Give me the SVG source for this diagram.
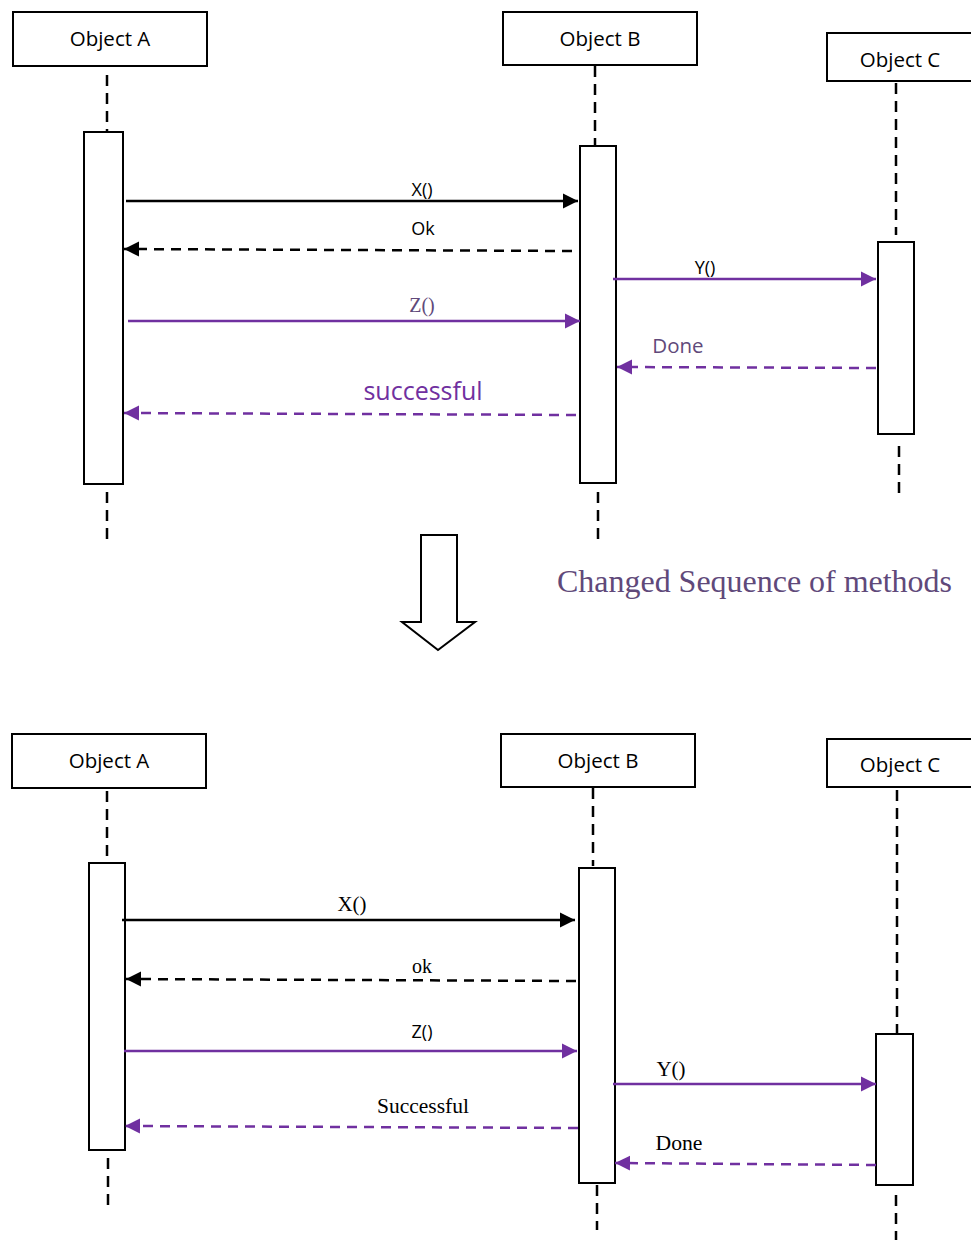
<svg xmlns="http://www.w3.org/2000/svg" width="971" height="1240" viewBox="0 0 971 1240">
<style>
.box{fill:#fff;stroke:#000;stroke-width:2}
.act{fill:#fff;stroke:#000;stroke-width:2}
.life{stroke:#000;stroke-width:2.5;stroke-dasharray:11 7;fill:none}
.hdr{font-family:"Open Sans","Noto Sans",sans-serif;font-size:20.5px;fill:#000;text-anchor:middle}
.lbl{font-family:"Open Sans","Noto Sans",sans-serif;font-size:18px;fill:#000;text-anchor:middle}
.ser{font-family:"Liberation Serif",serif;font-size:20px;fill:#000;text-anchor:middle}
.call{stroke:#000;stroke-width:2.5;fill:none}
.ret{stroke:#000;stroke-width:2.5;stroke-dasharray:10 7;fill:none}
.pcall{stroke:#7030a0;stroke-width:2.5;fill:none}
.pret{stroke:#7030a0;stroke-width:2.5;stroke-dasharray:10 7;fill:none}
</style>
<defs>
<marker id="ab" viewBox="0 0 10 10" refX="10" refY="5" markerWidth="6" markerHeight="6.5" markerUnits="strokeWidth" orient="auto"><path d="M0,0 L10,5 L0,10 z" fill="#000"/></marker>
<marker id="ap" viewBox="0 0 10 10" refX="10" refY="5" markerWidth="6" markerHeight="6.5" markerUnits="strokeWidth" orient="auto"><path d="M0,0 L10,5 L0,10 z" fill="#7030a0"/></marker>
</defs>

<!-- Top diagram -->
<g id="top-objA">
<rect class="box" x="13" y="12" width="194" height="54"/>
<text class="hdr" x="110" y="46">Object A</text>
<line class="life" x1="107" y1="75" x2="107" y2="131"/>
<rect class="act" x="84" y="132" width="39" height="352"/>
<line class="life" x1="107" y1="492" x2="107" y2="540"/>
</g>
<g id="top-objB">
<rect class="box" x="503" y="12" width="194" height="53"/>
<text class="hdr" x="600" y="46">Object B</text>
<line class="life" x1="595" y1="66" x2="595" y2="145"/>
<rect class="act" x="580" y="146" width="36" height="337"/>
<line class="life" x1="598" y1="492" x2="598" y2="540"/>
</g>
<g id="top-objC">
<rect class="box" x="827" y="33" width="150" height="48"/>
<text class="hdr" x="900" y="67">Object C</text>
<line class="life" x1="896" y1="83" x2="896" y2="235"/>
<rect class="act" x="878" y="242" width="36" height="192"/>
<line class="life" x1="899" y1="446" x2="899" y2="494"/>
</g>
<g id="top-connectors">
<line class="call" x1="126" y1="201" x2="578" y2="201" marker-end="url(#ab)"/>
<text class="lbl" x="422" y="196">X()</text>
<line class="ret" x1="572" y1="251" x2="124" y2="249" marker-end="url(#ab)"/>
<text class="lbl" x="423" y="235">Ok</text>
<line class="pcall" x1="613" y1="279" x2="876" y2="279" marker-end="url(#ap)"/>
<text class="lbl" x="705" y="274">Y()</text>
<line class="pcall" x1="128" y1="321" x2="580" y2="321" marker-end="url(#ap)"/>
<text x="422" y="312" style="font-family:'Liberation Serif',serif;font-size:20px;fill:#60497a;text-anchor:middle">Z()</text>
<line class="pret" x1="876" y1="368" x2="617" y2="367" marker-end="url(#ap)"/>
<text x="678" y="353" style="font-family:'Open Sans','Noto Sans',sans-serif;font-size:20.5px;fill:#60497a;text-anchor:middle">Done</text>
<line class="pret" x1="576" y1="415" x2="124" y2="413" marker-end="url(#ap)"/>
<text x="423" y="400" style="font-family:'Open Sans','Noto Sans',sans-serif;font-size:25px;fill:#7030a0;text-anchor:middle">successful</text>
</g>

<!-- Transition arrow -->
<g id="transition">
<path d="M421,535 L457,535 L457,622 L475,622 L438,650 L402,622 L421,622 Z" fill="#fff" stroke="#000" stroke-width="2"/>
<text x="557" y="592" textLength="395" lengthAdjust="spacingAndGlyphs" style="font-family:'Liberation Serif',serif;font-size:31px;fill:#60497a">Changed Sequence of methods</text>
</g>

<!-- Bottom diagram -->
<g id="bot-objA">
<rect class="box" x="12" y="734" width="194" height="54"/>
<text class="hdr" x="109" y="768">Object A</text>
<line class="life" x1="107" y1="791" x2="107" y2="860"/>
<rect class="act" x="89" y="863" width="36" height="287"/>
<line class="life" x1="108" y1="1158" x2="108" y2="1206"/>
</g>
<g id="bot-objB">
<rect class="box" x="501" y="734" width="194" height="53"/>
<text class="hdr" x="598" y="768">Object B</text>
<line class="life" x1="593" y1="788" x2="593" y2="866"/>
<rect class="act" x="579" y="868" width="36" height="315"/>
<line class="life" x1="597" y1="1185" x2="597" y2="1230"/>
</g>
<g id="bot-objC">
<rect class="box" x="827" y="739" width="150" height="48"/>
<text class="hdr" x="900" y="772">Object C</text>
<line class="life" x1="897" y1="790" x2="897" y2="1033"/>
<rect class="act" x="876" y="1034" width="37" height="151"/>
<line class="life" x1="896" y1="1195" x2="896" y2="1240"/>
</g>
<g id="bot-connectors">
<line class="call" x1="122" y1="920" x2="575" y2="920" marker-end="url(#ab)"/>
<text class="ser" x="352" y="911" textLength="29" lengthAdjust="spacingAndGlyphs">X()</text>
<line class="ret" x1="576" y1="981" x2="126" y2="979" marker-end="url(#ab)"/>
<text class="ser" x="422" y="973">ok</text>
<line class="pcall" x1="124" y1="1051" x2="577" y2="1051" marker-end="url(#ap)"/>
<text class="lbl" x="422" y="1038">Z()</text>
<line class="pcall" x1="613" y1="1084" x2="876" y2="1084" marker-end="url(#ap)"/>
<text class="ser" x="671" y="1076" textLength="29" lengthAdjust="spacingAndGlyphs">Y()</text>
<line class="pret" x1="578" y1="1128" x2="125" y2="1126" marker-end="url(#ap)"/>
<text class="ser" x="423" y="1113" textLength="92" lengthAdjust="spacingAndGlyphs">Successful</text>
<line class="pret" x1="876" y1="1165" x2="615" y2="1163" marker-end="url(#ap)"/>
<text class="ser" x="679" y="1150" textLength="47" lengthAdjust="spacingAndGlyphs">Done</text>
</g>
</svg>
